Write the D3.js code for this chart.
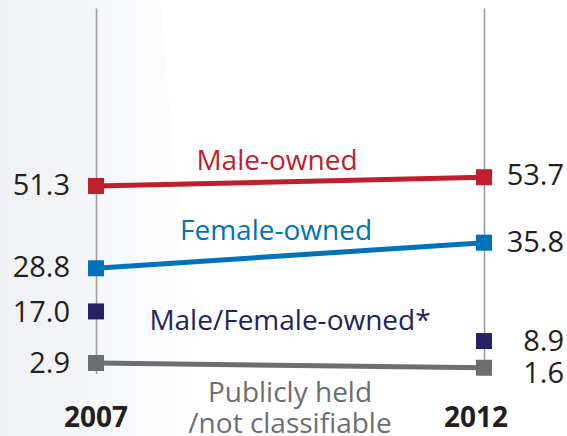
<!DOCTYPE html>
<html>
<head>
<meta charset="utf-8">
<script src="https://cdn.jsdelivr.net/npm/d3@7"></script>
<style>
  html, body { margin: 0; padding: 0; background: #fff; }
  svg { display: block; font-family: "Open Sans", "Noto Sans", sans-serif; }
</style>
</head>
<body>
<svg id="chart" width="567" height="436"></svg>
<script>
// ---- data ----
const years = ["2007", "2012"];
const seriesNames = ["Male-owned", "Female-owned", "Male/Female-owned*", "Publicly held\n/not classifiable"];
const maleOwned = [51.3, 53.7];
const femaleOwned = [28.8, 35.8];
const mixedOwned = [17.0, 8.9];
const publicHeld = [2.9, 1.6];
const valueLabels = [["51.3", "53.7"], ["28.8", "35.8"], ["17.0", "8.9"], ["2.9", "1.6"]];

// ---- styles / layout ----
const W = 567, H = 436;
const colors = ["#be1e2d", "#0072bc", "#262262", "#6d6e71"];
const drawLine = [true, true, false, true];
const leftDy = [9, 9, 11, 10];
const rightDy = [8, 9, 10, 15];
const nameAnchors = [
  { x: 277, y: 170 },
  { x: 276, y: 240 },
  { x: 290, y: 330 },
  { x: 290, y: 402 }
];

const svg = d3.select("#chart");

// background gradient
const defs = svg.append("defs");
const grad = defs.append("linearGradient").attr("id", "bg").attr("x1", "0").attr("x2", "1").attr("y1", "0").attr("y2", "0");
grad.append("stop").attr("offset", "0").attr("stop-color", "#eef0f3");
grad.append("stop").attr("offset", "0.6").attr("stop-color", "#f7f8fa");
grad.append("stop").attr("offset", "1").attr("stop-color", "#ffffff");
svg.append("rect").attr("width", W).attr("height", H).attr("fill", "#fff");
svg.append("polygon")
  .attr("points", "0,0 160,0 200,436 0,436")
  .attr("fill", "url(#bg)");

const x = d3.scalePoint().domain(years).range([96, 484]);
const y = d3.scaleLinear().domain([0, 100]).range([373.6, 7.9]);

// vertical year axes
years.forEach(yr => {
  const ax = d3.axisLeft(y).tickValues([]).tickSizeOuter(0);
  const g = svg.append("g").attr("transform", `translate(${x(yr)},0)`).call(ax);
  g.select(".domain").attr("stroke", "#9a9a9a").attr("stroke-width", 1.5);
});

const allSeries = [maleOwned, femaleOwned, mixedOwned, publicHeld];

allSeries.forEach((vals, i) => {
  const pts = years.map((yr, j) => [x(yr), y(vals[j])]);
  if (drawLine[i]) {
    svg.append("path")
      .attr("d", d3.line()(pts))
      .attr("fill", "none")
      .attr("stroke", colors[i])
      .attr("stroke-width", 5);
  }
  svg.selectAll(null).data(pts).enter().append("rect")
    .attr("x", d => d[0] - 8)
    .attr("y", d => d[1] - 8)
    .attr("width", 16)
    .attr("height", 16)
    .attr("fill", colors[i]);

  // left value label
  svg.append("text")
    .attr("x", 70).attr("y", y(vals[0]) + leftDy[i])
    .attr("text-anchor", "end")
    .attr("font-size", 29)
    .attr("fill", "#231f20")
    .text(valueLabels[i][0]);
  // right value label
  svg.append("text")
    .attr("x", 564).attr("y", y(vals[1]) + rightDy[i])
    .attr("text-anchor", "end")
    .attr("font-size", 29)
    .attr("fill", "#231f20")
    .text(valueLabels[i][1]);

  // series name
  const lines = seriesNames[i].split("\n");
  const t = svg.append("text")
    .attr("x", nameAnchors[i].x).attr("y", nameAnchors[i].y)
    .attr("text-anchor", "middle")
    .attr("font-size", 28)
    .attr("fill", colors[i]);
  lines.forEach((ln, k) => {
    t.append("tspan").attr("x", nameAnchors[i].x).attr("dy", k === 0 ? 0 : 31).text(ln);
  });
});

// year labels
const yearX = { "2007": x("2007"), "2012": x("2012") - 8 };
svg.selectAll(".year").data(years).enter().append("text")
  .attr("class", "year")
  .attr("x", d => yearX[d])
  .attr("y", 427)
  .attr("text-anchor", "middle")
  .attr("font-size", 28)
  .attr("font-weight", "bold")
  .attr("fill", "#231f20")
  .text(d => d);
</script>
</body>
</html>
